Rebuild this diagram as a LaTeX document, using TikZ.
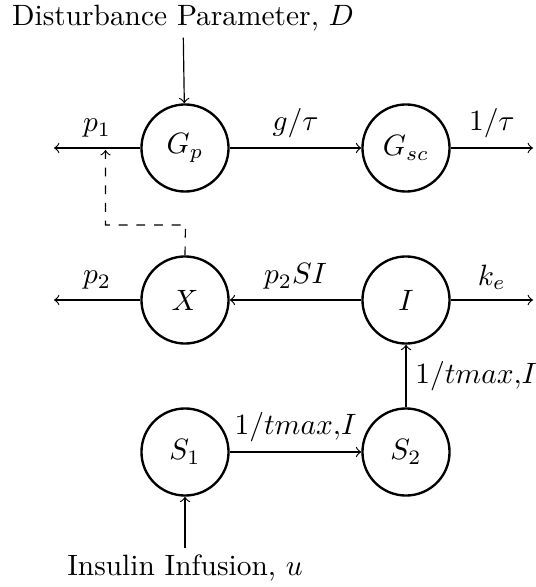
\documentclass[tikz,border=0pt]{standalone}
\usetikzlibrary{arrows}
\begin{document}
\begin{tikzpicture}[x=0.34pt,y=-0.34pt,
  compartment/.style={circle,draw,thick,minimum size=29.6pt,inner sep=0pt},
  flow/.style={->,thin},
  feedback/.style={->,thin,dashed}]
\useasboundingbox (0,0) rectangle (535,587);

% compartments
\node[compartment] (Gp)  at (185,148) {$G_p$};
\node[compartment] (Gsc) at (406,148) {$G_{sc}$};
\node[compartment] (X)   at (185,300) {$X$};
\node[compartment] (I)   at (406,300) {$I$};
\node[compartment] (S1)  at (185,452) {$S_1$};
\node[compartment] (S2)  at (406,452) {$S_2$};

% external inputs
\node[inner sep=2pt] (D) at (183,18) {Disturbance Parameter, $D$};
\node[inner sep=2pt] (u) at (185,568) {Insulin Infusion, $u$};

% free ends of the outflows
\coordinate (p1end) at (54,148);
\coordinate (tauend) at (533,148);
\coordinate (p2end) at (54,300);
\coordinate (keend) at (533,300);
\coordinate (fb1) at (185.5,225);
\coordinate (fb2) at (105.5,225);
\coordinate (fb3) at (105.5,150);

% glucose subsystem
\draw[flow] (D) -- (Gp);
\draw[flow] (Gp) -- node[above] {$p_1$} (p1end);
\draw[flow] (Gp) -- node[above] {$g/\tau$} (Gsc);
\draw[flow] (Gsc) -- node[above] {$1/\tau$} (tauend);

% insulin action
\draw[flow] (X) -- node[above] {$p_2$} (p2end);
\draw[flow] (I) -- node[above] {$p_2SI$} (X);
\draw[flow] (I) -- node[above] {$k_e$} (keend);
\draw[feedback] (X.north) -- (fb1) -- (fb2) -- (fb3);

% subcutaneous insulin
\draw[flow] (u) -- (S1);
\draw[flow] (S1) -- node[above] {$1/tmax{,}I$} (S2);
\draw[flow] (S2) -- node[right,inner sep=1pt,xshift=2pt] {$1/tmax{,}I$} (I);
\end{tikzpicture}
\end{document}
